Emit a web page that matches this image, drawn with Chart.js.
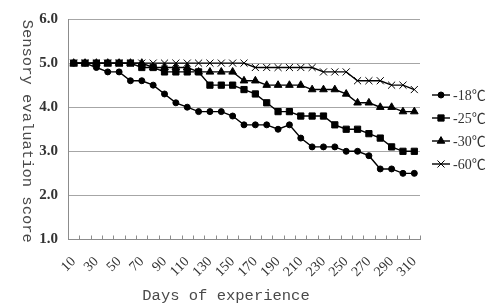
<!DOCTYPE html>
<html><head><meta charset="utf-8">
<script src="https://cdn.jsdelivr.net/npm/chart.js@4/dist/chart.umd.min.js"></script>
<style>html,body{margin:0;padding:0;background:#fff;}canvas{display:block;}</style>
</head><body>
<canvas id="c" width="501" height="308"></canvas>
<script>
// ---- data ----
const days = [10,20,30,40,50,60,70,80,90,100,110,120,130,140,150,160,170,180,190,200,210,220,230,240,250,260,270,280,290,300,310];
const seriesNames = ['-18℃','-25℃','-30℃','-60℃'];
const minus18 = [5.0,5.0,4.9,4.8,4.8,4.6,4.6,4.5,4.3,4.1,4.0,3.9,3.9,3.9,3.8,3.6,3.6,3.6,3.5,3.6,3.3,3.1,3.1,3.1,3.0,3.0,2.9,2.6,2.6,2.5,2.5];
const minus25 = [5.0,5.0,5.0,5.0,5.0,5.0,4.9,4.9,4.8,4.8,4.8,4.8,4.5,4.5,4.5,4.4,4.3,4.1,3.9,3.9,3.8,3.8,3.8,3.6,3.5,3.5,3.4,3.3,3.1,3.0,3.0];
const minus30 = [5.0,5.0,5.0,5.0,5.0,5.0,5.0,4.9,4.9,4.9,4.9,4.8,4.8,4.8,4.8,4.6,4.6,4.5,4.5,4.5,4.5,4.4,4.4,4.4,4.3,4.1,4.1,4.0,4.0,3.9,3.9];
const minus60 = [5.0,5.0,5.0,5.0,5.0,5.0,5.0,5.0,5.0,5.0,5.0,5.0,5.0,5.0,5.0,5.0,4.9,4.9,4.9,4.9,4.9,4.9,4.8,4.8,4.8,4.6,4.6,4.6,4.5,4.5,4.4];
const yTicks = [1.0,2.0,3.0,4.0,5.0,6.0];
const xTitle = 'Days of experience';
const yTitle = 'Sensory evaluation score';

const serif = '"Liberation Serif", "Times New Roman", "Noto Sans CJK SC", serif';
const mono = '"Liberation Mono", "DejaVu Sans Mono", monospace';
const styles = [
  {pointStyle:'circle', pointRadius:3},
  {pointStyle:'rect', pointRadius:4.4},
  {pointStyle:'triangle', pointRadius:4.4},
  {pointStyle:'crossRot', pointRadius:5}
];
const values = [minus18, minus25, minus30, minus60];

const datasets = values.map((v,i)=>({
  label: seriesNames[i],
  data: v,
  borderColor:'#000',
  backgroundColor:'#000',
  pointBackgroundColor:'#000',
  pointBorderColor:'#000',
  borderWidth:1.4,
  pointBorderWidth:1,
  pointStyle: styles[i].pointStyle,
  pointRadius: styles[i].pointRadius,
  tension:0,
  fill:false
}));

const decor = {
  id:'decor',
  afterDraw(chart){
    const ctx = chart.ctx, x = chart.scales.x, ca = chart.chartArea;
    ctx.save();
    // upward tick marks at category boundaries
    const step = x.getPixelForValue(1) - x.getPixelForValue(0);
    ctx.strokeStyle = '#8c8c8c'; ctx.lineWidth = 1;
    for (let k=0;k<=days.length;k++){
      const px = Math.round(x.getPixelForValue(k) - step/2) + 0.5;
      ctx.beginPath(); ctx.moveTo(px, ca.bottom); ctx.lineTo(px, ca.bottom-4); ctx.stroke();
    }
    // axis titles
    ctx.fillStyle = '#4a4a4a';
    ctx.font = '15.5px ' + mono;
    ctx.textAlign = 'center'; ctx.textBaseline = 'middle';
    ctx.fillText(xTitle, 226, 296);
    ctx.translate(27, (ca.top+ca.bottom)/2 + 2);
    ctx.rotate(Math.PI/2);
    ctx.fillText(yTitle, 0, 0);
    ctx.restore();
    // legend
    ctx.save();
    chart.data.datasets.forEach((ds,i)=>{
      const ly = 95 + i*23;
      ctx.strokeStyle = '#000'; ctx.lineWidth = 1.4;
      ctx.beginPath(); ctx.moveTo(432, ly); ctx.lineTo(450, ly); ctx.stroke();
      ctx.fillStyle = '#000'; ctx.lineWidth = 1;
      Chart.helpers.drawPoint(ctx, {pointStyle: ds.pointStyle, radius: ds.pointRadius, rotation:0, borderWidth:1}, 441, ly);
      ctx.fillStyle = '#333';
      ctx.font = '14px ' + serif;
      ctx.textAlign = 'left'; ctx.textBaseline = 'middle';
      ctx.fillText(ds.label, 453, ly+1);
    });
    ctx.restore();
  }
};

new Chart(document.getElementById('c'), {
  type:'line',
  data:{ labels: days, datasets },
  options:{
    responsive:false,
    animation:false,
    devicePixelRatio:1,
    layout:{ padding:{ left:0, right:81, top:13, bottom:0 } },
    plugins:{ legend:{display:false}, tooltip:{enabled:false} },
    scales:{
      x:{
        type:'category',
        offset:true,
        grid:{ display:false, drawTicks:false },
        border:{ display:true, color:'#8c8c8c', width:1 },
        ticks:{
          autoSkip:false, maxRotation:45, minRotation:45, padding:14,
          color:'#333', font:{ family: serif, size:14 },
          callback:(v,i)=> i%2===0 ? String(days[i]) : ''
        },
        afterFit(s){ s.height = 68.5; }
      },
      y:{
        min:1, max:6,
        afterBuildTicks(s){ s.ticks = yTicks.map(v=>({value:v})); },
        grid:{ color:'#a6a6a6', lineWidth:1, drawTicks:false },
        border:{ display:true, color:'#8c8c8c', width:1 },
        ticks:{ padding:10, color:'#333', font:{ family: serif, size:15, weight:'bold' },
          callback:(v)=> Number(v).toFixed(1) },
        afterFit(s){ s.width = 68; }
      }
    }
  },
  plugins:[decor]
});
</script>
</body></html>
